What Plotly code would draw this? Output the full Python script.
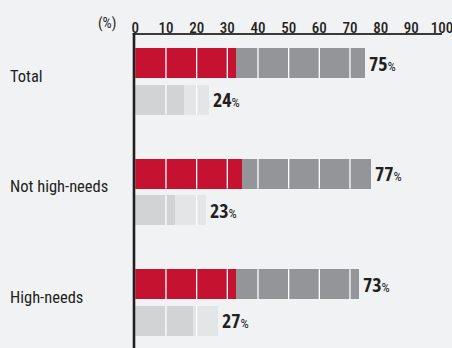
import plotly.graph_objects as go

# ---- data ----
groups = ["Total", "Not high-needs", "High-needs"]
red_vals = [33, 35, 33]          # first row, dark red segment
grey_vals = [42, 42, 40]         # first row, grey segment
row1_totals = [75, 77, 73]
light_vals = [16, 13, 19]        # second row, light grey segment
lighter_vals = [8, 10, 8]        # second row, lighter grey segment
row2_totals = [24, 23, 27]
x_ticks = [0, 10, 20, 30, 40, 50, 60, 70, 80, 90, 100]

# ---- style ----
FONT = "Roboto Condensed, DejaVu Sans Condensed, sans-serif"
FONT_B = "Open Sans Condensed, Roboto Condensed, sans-serif"
TXT = "#231f20"
BG = "#f1f2f4"
RED = "#c41230"
GREY = "#939598"
LIGHT = "#d1d3d4"
LIGHTER = "#e4e5e7"

W, H = 452, 348
M_TOP = 37
PH = H - M_TOP            # plot-area height in px
X0_PX, X1_PX = 135.3, 442

OFF = 0.165
BW = 0.271
g_pos = list(range(len(groups)))
y_row1 = [g - OFF for g in g_pos]
y_row2 = [g + OFF for g in g_pos]

fig = go.Figure()
fig.add_trace(go.Bar(x=red_vals, y=y_row1, orientation="h", width=BW,
                     marker=dict(color=RED, line=dict(width=0)), hoverinfo="skip"))
fig.add_trace(go.Bar(x=grey_vals, y=y_row1, orientation="h", width=BW,
                     marker=dict(color=GREY, line=dict(width=0)), hoverinfo="skip"))
fig.add_trace(go.Bar(x=light_vals, y=y_row2, orientation="h", width=BW,
                     marker=dict(color=LIGHT, line=dict(width=0)), hoverinfo="skip"))
fig.add_trace(go.Bar(x=lighter_vals, y=y_row2, orientation="h", width=BW,
                     marker=dict(color=LIGHTER, line=dict(width=0)), hoverinfo="skip"))

# white separators at every 10 within bars
shapes = []
for ys, tots in ((y_row1, row1_totals), (y_row2, row2_totals)):
    for yv, tot in zip(ys, tots):
        for t in x_ticks[1:-1]:
            if t < tot:
                shapes.append(dict(type="line", xref="x", yref="y", x0=t, x1=t,
                                   y0=yv - BW / 2, y1=yv + BW / 2,
                                   line=dict(color="white", width=1.3), layer="above"))

# axis frame lines (top and left)
shapes.append(dict(type="line", xref="paper", yref="paper",
                   x0=132.7 / W, x1=X1_PX / W, y0=(H - 34) / PH, y1=(H - 34) / PH,
                   line=dict(color="#3a3a3a", width=2), layer="above"))
shapes.append(dict(type="line", xref="paper", yref="paper",
                   x0=134 / W, x1=134 / W, y0=0, y1=(H - 33) / PH,
                   line=dict(color=TXT, width=2.6), layer="above"))

annotations = []
for ys, tots in ((y_row1, row1_totals), (y_row2, row2_totals)):
    for yv, tot in zip(ys, tots):
        annotations.append(dict(x=tot, y=yv, xref="x", yref="y", xanchor="left",
                                yanchor="middle", xshift=2, showarrow=False,
                                text=f"<b>{tot}</b><span style='font-size:13px;font-family:Roboto Condensed'>%</span>",
                                font=dict(family=FONT_B, size=20, color=TXT)))
for g, name in zip(g_pos, groups):
    annotations.append(dict(x=8 / W, y=g, xref="paper", yref="y", xanchor="left",
                            yanchor="middle", yshift=5, showarrow=False, text=name,
                            font=dict(family=FONT, size=16.5, color=TXT)))
annotations.append(dict(x=107 / W, y=(H - 23) / PH, xref="paper", yref="paper",
                        showarrow=False, text="(%)", yanchor="middle", xanchor="center",
                        font=dict(family=FONT, size=14.5, color=TXT)))

y_top = (M_TOP - 81.3) / 110.55
fig.update_layout(
    width=W, height=H, margin=dict(l=0, r=0, t=M_TOP, b=0, autoexpand=False),
    paper_bgcolor=BG, plot_bgcolor=BG, barmode="stack", showlegend=False,
    shapes=shapes, annotations=annotations, bargap=0,
    xaxis=dict(domain=[X0_PX / W, X1_PX / W], range=[0, 100], side="top",
               tickvals=x_ticks, ticktext=[str(v) for v in x_ticks],
               showgrid=False, zeroline=False, showline=False,
               ticks="", ticklabeloverflow="allow", automargin=False,
               tickfont=dict(family=FONT, size=15, color=TXT, weight=500),
               fixedrange=True),
    yaxis=dict(range=[2.412, y_top], showgrid=False, zeroline=False, showline=False,
               showticklabels=False, ticks="", automargin=False, fixedrange=True),
)

fig.write_html("out.html")
